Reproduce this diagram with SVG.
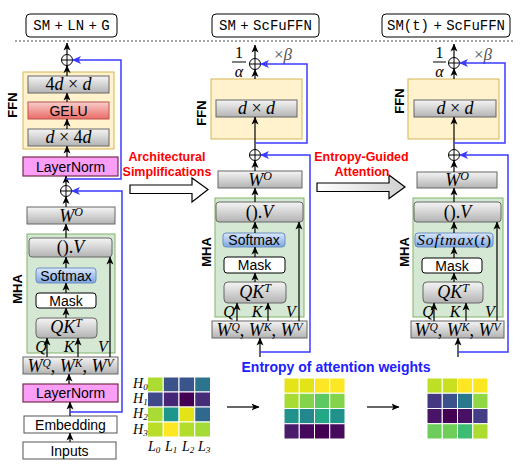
<svg xmlns="http://www.w3.org/2000/svg" xmlns:xlink="http://www.w3.org/1999/xlink" width="529" height="470" viewBox="0 0 529 470">
<defs>
<linearGradient id="gGray" x1="0" y1="0" x2="0" y2="1"><stop offset="0" stop-color="#f5f5f5"/><stop offset="1" stop-color="#b3b3b3"/></linearGradient>
<linearGradient id="gBlue" x1="0" y1="0" x2="0" y2="1"><stop offset="0" stop-color="#dae8fc"/><stop offset="1" stop-color="#7ea6e0"/></linearGradient>
<linearGradient id="gRed" x1="0" y1="0" x2="0" y2="1"><stop offset="0" stop-color="#f8cecc"/><stop offset="1" stop-color="#ea6b66"/></linearGradient>
<linearGradient id="gArr" x1="0" y1="0" x2="1" y2="0"><stop offset="0" stop-color="#ffffff"/><stop offset="1" stop-color="#d0d0d0"/></linearGradient>
<marker id="ah" viewBox="0 0 8 8" refX="7.5" refY="4" markerWidth="8" markerHeight="8" markerUnits="userSpaceOnUse" orient="auto"><path d="M0,0.5 L8,4 L0,7.5 L2,4 Z" fill="#000"/></marker>
<marker id="bh" viewBox="0 0 8 8" refX="7.5" refY="4" markerWidth="9" markerHeight="9" markerUnits="userSpaceOnUse" orient="auto"><path d="M0,0.5 L8,4 L0,7.5 L2,4 Z" fill="#3b3bff"/></marker>
<g id="plus"><circle cx="0" cy="0" r="5.5" fill="#fff" stroke="#000" stroke-width="1"/><path d="M-5.5,0H5.5M0,-5.5V5.5" stroke="#000" stroke-width="1"/></g>
<style>
.gb{fill:url(#gGray);stroke:#666;stroke-width:1}
.sb{fill:url(#gBlue);stroke:#6c8ebf;stroke-width:1}
.rb{fill:url(#gRed);stroke:#b85450;stroke-width:1}
.ln{fill:#fa9ef8;stroke:#7a2a4a;stroke-width:1.2}
.wb{fill:#fff;stroke:#000;stroke-width:1}
.eb{fill:#fff;stroke:#555;stroke-width:1}
.ffn{fill:#fff2cc;stroke:#d6b656;stroke-width:1}
.mha{fill:#d5e8d4;stroke:#82b366;stroke-width:1}
.tb{fill:#fff;stroke:#000;stroke-width:1}
.arr{stroke:#000;stroke-width:1.2;fill:none;marker-end:url(#ah)}
.blu{stroke:#3b3bff;stroke-width:1.5;fill:none;marker-end:url(#bh)}
.lbl{font-family:"Liberation Sans",Arial,sans-serif;font-size:14px;text-anchor:middle;fill:#000}
.m{font-family:"Liberation Serif","Times New Roman",serif;font-style:italic;font-size:18px;text-anchor:middle;fill:#000}
.q{font-family:"Liberation Serif","Times New Roman",serif;font-style:italic;font-size:16px;text-anchor:middle;fill:#000}
.up{font-style:normal}
.side{font-family:"Liberation Sans",Arial,sans-serif;font-weight:bold;font-size:13px;text-anchor:middle}
.tt{font-family:"Liberation Mono","Courier New",monospace;font-size:14px;text-anchor:middle;word-spacing:-4px}
.red{font-family:"Liberation Sans",Arial,sans-serif;font-weight:bold;font-size:12.5px;text-anchor:middle;fill:#ff0000}
.hm rect{stroke:#fff;stroke-width:1}
.sm{font-family:"Liberation Serif","Times New Roman",serif;font-style:italic;font-size:14px;fill:#000}
</style>
</defs>
<rect width="529" height="470" fill="#fff"/>
<line x1="15" y1="41" x2="515" y2="41" stroke="#888" stroke-width="1.3" stroke-dasharray="2,2"/>

<!-- Column 1 -->
<g id="title1"><rect class="tb" x="26" y="14" width="91" height="23" rx="4"/><text class="tt" x="71.5" y="30">SM + LN + G</text></g>
<g id="ffn1"><rect class="ffn" x="23" y="72" width="91" height="77"/><text class="side" transform="translate(17,105) rotate(-90)">FFN</text></g>
<g id="ffn1-out"><rect class="gb" x="28" y="76" width="81" height="17"/><text class="m" x="68.5" y="90"><tspan class="up">4</tspan>d <tspan class="up">×</tspan> d</text></g>
<g id="gelu"><rect class="rb" x="28" y="102" width="81" height="17"/><text class="lbl" x="68.5" y="115.5">GELU</text></g>
<g id="ffn1-in"><rect class="gb" x="28" y="129" width="81" height="17"/><text class="m" x="68.5" y="143">d <tspan class="up">× 4</tspan>d</text></g>
<g id="ln2"><rect class="ln" x="23" y="157" width="95" height="19"/><text class="lbl" x="70.5" y="171.5">LayerNorm</text></g>
<g id="add1a"><use href="#plus" x="67" y="60"/></g>
<g id="add1b"><use href="#plus" x="66" y="191"/></g>
<g id="wo1"><rect class="gb" x="27" y="207" width="88" height="17"/><text class="m" x="71" y="221.5">W<tspan dy="-6" font-size="12">O</tspan></text></g>
<g id="mha1"><rect class="mha" x="27" y="234" width="88" height="119"/><text class="side" transform="translate(22,289) rotate(-90)">MHA</text></g>
<g id="v1"><rect class="gb" x="29" y="238" width="83" height="19" rx="3"/><text class="m" x="70.5" y="253"><tspan class="up">().</tspan>V</text></g>
<g id="softmax1"><rect class="sb" x="36" y="268" width="60" height="15" rx="3"/><text class="lbl" x="66" y="280.5" font-size="13.5">Softmax</text></g>
<g id="mask1"><rect class="wb" x="36" y="293" width="60" height="15" rx="3"/><text class="lbl" x="66" y="305.5">Mask</text></g>
<g id="qk1"><rect class="gb" x="36" y="318" width="61" height="20" rx="4"/><text class="m" x="66" y="333">QK<tspan dy="-6" font-size="12">T</tspan></text></g>
<g id="qkvlabels1"><text class="q" x="41" y="352">Q</text><text class="q" x="69" y="352">K</text><text class="q" x="103" y="352">V</text></g>
<g id="wqkv1"><rect class="gb" x="23" y="357" width="95" height="17"/><text class="m" x="70.5" y="371.5">W<tspan dy="-5" font-size="11.5">Q</tspan><tspan dy="5" class="up">, </tspan>W<tspan dy="-5" font-size="11.5">K</tspan><tspan dy="5" class="up">, </tspan>W<tspan dy="-5" font-size="11.5">V</tspan></text></g>
<g id="ln1"><rect class="ln" x="23" y="384" width="95" height="18"/><text class="lbl" x="70.5" y="398">LayerNorm</text></g>
<g id="embedding"><rect class="eb" x="24" y="416" width="93" height="17"/><text class="lbl" x="70.5" y="430">Embedding</text></g>
<g id="inputs"><rect class="eb" x="23" y="442" width="93" height="17"/><text class="lbl" x="69.5" y="456">Inputs</text></g>

<!-- Column 2 -->
<g id="title2"><rect class="tb" x="212" y="14" width="107" height="23" rx="4"/><text class="tt" x="265.5" y="30">SM + ScFuFFN</text></g>
<g id="scale2"><text class="q" x="239" y="58" style="font-style:normal">1</text><line x1="232" y1="62" x2="246" y2="62" stroke="#000" stroke-width="1"/><text class="q" x="239" y="77">α</text><text class="m" x="283" y="60" style="fill:#555;font-size:17px"><tspan class="up">×</tspan>β</text></g>
<g id="ffn2"><rect class="ffn" x="211" y="79" width="91" height="60"/><text class="side" transform="translate(206,113) rotate(-90)">FFN</text></g>
<g id="dd2"><rect class="gb" x="216" y="100" width="81" height="17"/><text class="m" x="256.5" y="114">d <tspan class="up">×</tspan> d</text></g>
<g id="add2a"><use href="#plus" x="255" y="64"/></g>
<g id="add2b"><use href="#plus" x="255" y="155"/></g>
<g id="wo2"><rect class="gb" x="218" y="171" width="84" height="17"/><text class="m" x="260" y="185.5">W<tspan dy="-6" font-size="12">O</tspan></text></g>
<g id="mha2"><rect class="mha" x="215" y="198" width="89" height="119"/><text class="side" transform="translate(211,252) rotate(-90)">MHA</text></g>
<g id="v2"><rect class="gb" x="216" y="202" width="87" height="20" rx="3"/><text class="m" x="259.5" y="217.5"><tspan class="up">().</tspan>V</text></g>
<g id="softmax2"><rect class="sb" x="223" y="233" width="62" height="14" rx="3"/><text class="lbl" x="254" y="245" font-size="13.5">Softmax</text></g>
<g id="mask2"><rect class="wb" x="224" y="257" width="61" height="16" rx="3"/><text class="lbl" x="254.5" y="270">Mask</text></g>
<g id="qk2"><rect class="gb" x="224" y="282" width="62" height="21" rx="4"/><text class="m" x="255" y="297.5">QK<tspan dy="-6" font-size="12">T</tspan></text></g>
<g id="qkvlabels2"><text class="q" x="229" y="316.5">Q</text><text class="q" x="257" y="316.5">K</text><text class="q" x="291" y="316.5">V</text></g>
<g id="wqkv2"><rect class="gb" x="212" y="321" width="95" height="17"/><text class="m" x="259.5" y="335.5">W<tspan dy="-5" font-size="11.5">Q</tspan><tspan dy="5" class="up">, </tspan>W<tspan dy="-5" font-size="11.5">K</tspan><tspan dy="5" class="up">, </tspan>W<tspan dy="-5" font-size="11.5">V</tspan></text></g>

<!-- Column 3 -->
<g id="title3"><rect class="tb" x="382" y="14" width="128" height="23" rx="4"/><text class="tt" x="446" y="30">SM(t) + ScFuFFN</text></g>
<g id="scale3"><text class="q" x="439.5" y="58" style="font-style:normal">1</text><line x1="433" y1="62" x2="446" y2="62" stroke="#000" stroke-width="1"/><text class="q" x="439.5" y="77">α</text><text class="m" x="483" y="60" style="fill:#555;font-size:17px"><tspan class="up">×</tspan>β</text></g>
<g id="ffn3"><rect class="ffn" x="408" y="79" width="91" height="60"/><text class="side" transform="translate(404,101) rotate(-90)">FFN</text></g>
<g id="dd3"><rect class="gb" x="414" y="100" width="82" height="17"/><text class="m" x="455" y="114">d <tspan class="up">×</tspan> d</text></g>
<g id="add3a"><use href="#plus" x="454" y="63"/></g>
<g id="add3b"><use href="#plus" x="454" y="155"/></g>
<g id="wo3"><rect class="gb" x="417" y="172" width="80" height="16"/><text class="m" x="457" y="186">W<tspan dy="-6" font-size="12">O</tspan></text></g>
<g id="mha3"><rect class="mha" x="413" y="198" width="90" height="119"/><text class="side" transform="translate(409,252) rotate(-90)">MHA</text></g>
<g id="v3"><rect class="gb" x="414" y="202" width="87" height="20" rx="3"/><text class="m" x="457.5" y="217.5"><tspan class="up">().</tspan>V</text></g>
<g id="softmax3"><rect class="sb" x="415" y="233" width="78" height="14" rx="3"/><text class="m" x="454" y="245" textLength="74" style="font-size:15.5px">Softmax<tspan class="up">(</tspan>t<tspan class="up">)</tspan></text></g>
<g id="mask3"><rect class="wb" x="422" y="258" width="60" height="15" rx="3"/><text class="lbl" x="452" y="270.5">Mask</text></g>
<g id="qk3"><rect class="gb" x="423" y="282" width="60" height="21" rx="4"/><text class="m" x="453" y="297.5">QK<tspan dy="-6" font-size="12">T</tspan></text></g>
<g id="qkvlabels3"><text class="q" x="428" y="316.5">Q</text><text class="q" x="455" y="316.5">K</text><text class="q" x="490" y="316.5">V</text></g>
<g id="wqkv3"><rect class="gb" x="411" y="321" width="93" height="17"/><text class="m" x="457.5" y="335.5">W<tspan dy="-5" font-size="11.5">Q</tspan><tspan dy="5" class="up">, </tspan>W<tspan dy="-5" font-size="11.5">K</tspan><tspan dy="5" class="up">, </tspan>W<tspan dy="-5" font-size="11.5">V</tspan></text></g>

<!-- Transition arrows -->
<g id="step1"><polygon points="130,185 192,185 192,178 208,189.5 192,202 192,193.5 130,193.5" fill="#fff" stroke="#000" stroke-width="1.2"/><text class="red" x="167" y="161">Architectural</text><text class="red" x="167" y="176">Simplifications</text></g>
<g id="step2"><polygon points="317,183 389,183 389,175 405,187 389,198.5 389,191.5 317,191.5" fill="url(#gArr)" stroke="#000" stroke-width="1.2"/><text class="red" x="361.5" y="161">Entropy-Guided</text><text class="red" x="362" y="176">Attention</text></g>

<!-- Heatmaps -->
<g id="heatmap1" class="hm">
<rect x="147.5" y="377" width="15.75" height="15" fill="#addc30"/><rect x="163.25" y="377" width="15.75" height="15" fill="#3b528b"/><rect x="179" y="377" width="15.75" height="15" fill="#3a548c"/><rect x="194.75" y="377" width="15.75" height="15" fill="#2c738e"/>
<rect x="147.5" y="392" width="15.75" height="15" fill="#3e4a89"/><rect x="163.25" y="392" width="15.75" height="15" fill="#482677"/><rect x="179" y="392" width="15.75" height="15" fill="#440154"/><rect x="194.75" y="392" width="15.75" height="15" fill="#472c7a"/>
<rect x="147.5" y="407" width="15.75" height="15" fill="#a8db34"/><rect x="163.25" y="407" width="15.75" height="15" fill="#1f968b"/><rect x="179" y="407" width="15.75" height="15" fill="#e2e418"/><rect x="194.75" y="407" width="15.75" height="15" fill="#30698e"/>
<rect x="147.5" y="422" width="15.75" height="15" fill="#bade28"/><rect x="163.25" y="422" width="15.75" height="15" fill="#fde725"/><rect x="179" y="422" width="15.75" height="15" fill="#b2dd2d"/><rect x="194.75" y="422" width="15.75" height="15" fill="#a5db36"/>
<text class="sm" x="133" y="388">H<tspan dy="2" font-size="9">0</tspan></text>
<text class="sm" x="133" y="403">H<tspan dy="2" font-size="9">1</tspan></text>
<text class="sm" x="133" y="418">H<tspan dy="2" font-size="9">2</tspan></text>
<text class="sm" x="133" y="434">H<tspan dy="2" font-size="9">3</tspan></text>
<text class="sm" x="148" y="451">L<tspan dy="2" font-size="9">0</tspan></text>
<text class="sm" x="165" y="451">L<tspan dy="2" font-size="9">1</tspan></text>
<text class="sm" x="182" y="451">L<tspan dy="2" font-size="9">2</tspan></text>
<text class="sm" x="198" y="451">L<tspan dy="2" font-size="9">3</tspan></text>
</g>
<g id="heatmap2" class="hm">
<rect x="284" y="378" width="15.25" height="15.25" fill="#e5e419"/><rect x="299.25" y="378" width="15.25" height="15.25" fill="#e2e418"/><rect x="314.5" y="378" width="15.25" height="15.25" fill="#fde725"/><rect x="329.75" y="378" width="15.25" height="15.25" fill="#fbe723"/>
<rect x="284" y="393.25" width="15.25" height="15.25" fill="#a8db34"/><rect x="299.25" y="393.25" width="15.25" height="15.25" fill="#84d44b"/><rect x="314.5" y="393.25" width="15.25" height="15.25" fill="#5ec962"/><rect x="329.75" y="393.25" width="15.25" height="15.25" fill="#84d44b"/>
<rect x="284" y="408.5" width="15.25" height="15.25" fill="#21918c"/><rect x="299.25" y="408.5" width="15.25" height="15.25" fill="#23888e"/><rect x="314.5" y="408.5" width="15.25" height="15.25" fill="#22a884"/><rect x="329.75" y="408.5" width="15.25" height="15.25" fill="#20928c"/>
<rect x="284" y="423.75" width="15.25" height="15.25" fill="#481b6d"/><rect x="299.25" y="423.75" width="15.25" height="15.25" fill="#46085c"/><rect x="314.5" y="423.75" width="15.25" height="15.25" fill="#440154"/><rect x="329.75" y="423.75" width="15.25" height="15.25" fill="#460a5d"/>
</g>
<g id="heatmap3" class="hm">
<rect x="427" y="378" width="15.25" height="15.25" fill="#bddf26"/><rect x="442.25" y="378" width="15.25" height="15.25" fill="#c8e020"/><rect x="457.5" y="378" width="15.25" height="15.25" fill="#fde725"/><rect x="472.75" y="378" width="15.25" height="15.25" fill="#fae622"/>
<rect x="427" y="393.25" width="15.25" height="15.25" fill="#453882"/><rect x="442.25" y="393.25" width="15.25" height="15.25" fill="#3b528b"/><rect x="457.5" y="393.25" width="15.25" height="15.25" fill="#29788e"/><rect x="472.75" y="393.25" width="15.25" height="15.25" fill="#8fd744"/>
<rect x="427" y="408.5" width="15.25" height="15.25" fill="#481467"/><rect x="442.25" y="408.5" width="15.25" height="15.25" fill="#440154"/><rect x="457.5" y="408.5" width="15.25" height="15.25" fill="#471063"/><rect x="472.75" y="408.5" width="15.25" height="15.25" fill="#433e85"/>
<rect x="427" y="423.75" width="15.25" height="15.25" fill="#6ccd5a"/><rect x="442.25" y="423.75" width="15.25" height="15.25" fill="#6ece58"/><rect x="457.5" y="423.75" width="15.25" height="15.25" fill="#3fbc73"/><rect x="472.75" y="423.75" width="15.25" height="15.25" fill="#addc30"/>
</g>
<g id="entropy-label"><text x="336" y="372" font-family="Liberation Sans, Arial, sans-serif" font-weight="bold" font-size="14" fill="#2020ff" text-anchor="middle">Entropy of attention weights</text></g>

<!-- Connectors -->
<g id="connectors">
<path class="arr" d="M67,54.5V43"/>
<path class="arr" d="M67,76V65.5"/>
<path class="arr" d="M67,102V93"/>
<path class="arr" d="M67,129V119"/>
<path class="arr" d="M67,157V146"/>
<path class="arr" d="M66,185.5V176"/>
<path class="arr" d="M66,207V196.5"/>
<path class="arr" d="M66,238V224"/>
<path class="arr" d="M66,268V257"/>
<path class="arr" d="M66,293V283"/>
<path class="arr" d="M66,318V308"/>
<path class="arr" d="M47,357V338"/>
<path class="arr" d="M78,357V338"/>
<path class="arr" d="M110,357V257"/>
<path class="arr" d="M69,384V374"/>
<path class="arr" d="M70,416V402"/>
<path class="arr" d="M70,442V433"/>
<path class="blu" d="M66,179H121V60H72.5"/>
<path class="blu" d="M70,412H122V191H71.5"/>

<path class="arr" d="M255,58.5V45"/>
<path class="arr" d="M255,79V69.5"/>
<path class="arr" d="M255,149.5V117"/>
<path class="arr" d="M255,171V160.5"/>
<path class="arr" d="M255,202V188"/>
<path class="arr" d="M255,233V222"/>
<path class="arr" d="M255,257V247"/>
<path class="arr" d="M255,282V273"/>
<path class="arr" d="M237,321V303"/>
<path class="arr" d="M268,321V303"/>
<path class="arr" d="M299,321V222"/>
<path class="arr" d="M260,357V338"/>
<path class="blu" d="M255,143H307V64H260.5"/>
<path class="blu" d="M260,352H310V155H260.5"/>

<path class="arr" d="M454,57.5V44"/>
<path class="arr" d="M454,79V68.5"/>
<path class="arr" d="M454,149.5V117"/>
<path class="arr" d="M454,172V160.5"/>
<path class="arr" d="M454,202V188"/>
<path class="arr" d="M454,233V222"/>
<path class="arr" d="M454,258V247"/>
<path class="arr" d="M454,282V273"/>
<path class="arr" d="M434,321V303"/>
<path class="arr" d="M466,321V303"/>
<path class="arr" d="M497,321V222"/>
<path class="arr" d="M458,357V338"/>
<path class="blu" d="M454,143H505V63H459.5"/>
<path class="blu" d="M458,352H508V155H459.5"/>

<path class="arr" d="M227,407H259"/>
<path class="arr" d="M367,407H399"/>
</g>
</svg>
